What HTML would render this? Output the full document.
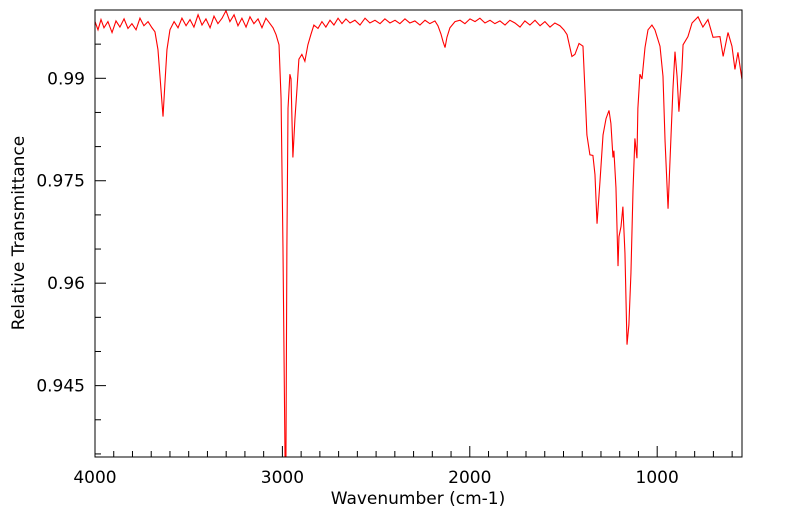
<!DOCTYPE html>
<html><head><meta charset="utf-8"><style>
html,body{margin:0;padding:0;background:#fff;}
svg{display:block;font-family:"DejaVu Sans","Liberation Sans",sans-serif;}
</style></head><body>
<svg id="chart" width="799" height="516">
<rect x="0" y="0" width="799" height="516" fill="#fff"/>
<g id="ticks"></g>
<g id="labels"></g>
<path id="series" fill="none" stroke="#ff0000" stroke-width="1.1"/>
<rect x="95" y="10" width="647" height="447" fill="none" stroke="#000" stroke-width="1"/>
<text x="418" y="504" font-size="17" text-anchor="middle">Wavenumber (cm-1)</text>
<text transform="translate(24,233) rotate(-90)" font-size="17" text-anchor="middle">Relative Transmittance</text>
</svg>
<script>
const wavenumbers = [4000,3984,3968,3952,3931,3909,3888,3867,3845,3824,3803,3781,3760,3739,3717,3696,3680,3664,3648,3637,3627,3616,3600,3578,3557,3536,3514,3493,3472,3450,3429,3408,3386,3365,3344,3322,3301,3280,3258,3237,3216,3194,3173,3152,3130,3109,3088,3066,3050,3034,3018,3007,2997,2986,2981,2976,2970,2960,2954,2949,2944,2933,2922,2912,2896,2880,2864,2848,2832,2810,2789,2768,2746,2725,2703,2682,2661,2639,2613,2586,2559,2533,2506,2479,2453,2426,2399,2373,2346,2320,2293,2266,2239,2213,2186,2170,2154,2143,2132,2122,2106,2079,2052,2026,1999,1972,1946,1919,1892,1866,1839,1812,1786,1759,1732,1706,1679,1652,1625,1599,1572,1546,1519,1498,1481,1455,1439,1417,1396,1385,1375,1359,1343,1332,1321,1305,1289,1273,1257,1247,1236,1231,1220,1209,1204,1193,1183,1172,1161,1151,1140,1129,1119,1108,1103,1092,1081,1065,1049,1028,1012,985,969,958,942,926,916,905,894,884,868,862,836,814,782,756,729,702,665,648,622,601,585,569,548];
const transmittance = [0.9983,0.9971,0.9986,0.9974,0.9983,0.9967,0.9984,0.9975,0.9987,0.9973,0.9980,0.9971,0.9988,0.9977,0.9983,0.9974,0.9968,0.9942,0.9884,0.9844,0.9892,0.9942,0.9971,0.9983,0.9974,0.9988,0.9977,0.9986,0.9975,0.9993,0.9978,0.9987,0.9974,0.9991,0.9980,0.9988,0.9999,0.9983,0.9993,0.9977,0.9988,0.9975,0.9990,0.9980,0.9987,0.9974,0.9988,0.9980,0.9974,0.9964,0.9949,0.9870,0.9654,0.9300,0.9300,0.9654,0.9856,0.9906,0.9899,0.9841,0.9784,0.9841,0.9885,0.9928,0.9935,0.9925,0.9949,0.9964,0.9978,0.9973,0.9983,0.9975,0.9985,0.9978,0.9988,0.9980,0.9987,0.9981,0.9985,0.9978,0.9988,0.9981,0.9985,0.9980,0.9987,0.9981,0.9985,0.9980,0.9987,0.9981,0.9984,0.9978,0.9985,0.9980,0.9984,0.9977,0.9965,0.9954,0.9945,0.9960,0.9974,0.9983,0.9985,0.9980,0.9987,0.9983,0.9988,0.9981,0.9985,0.9980,0.9984,0.9978,0.9985,0.9981,0.9975,0.9984,0.9978,0.9985,0.9977,0.9983,0.9975,0.9981,0.9977,0.9971,0.9964,0.9932,0.9935,0.9951,0.9947,0.9880,0.9817,0.9788,0.9787,0.9759,0.9687,0.9750,0.9817,0.9841,0.9853,0.9834,0.9784,0.9794,0.9740,0.9625,0.9668,0.9683,0.9712,0.9644,0.9510,0.9539,0.9615,0.9736,0.9812,0.9783,0.9856,0.9906,0.9899,0.9945,0.9971,0.9978,0.9971,0.9947,0.9903,0.9808,0.9709,0.9817,0.9884,0.9939,0.9903,0.9851,0.9913,0.9949,0.9961,0.9981,0.9990,0.9975,0.9986,0.9960,0.9961,0.9932,0.9967,0.9947,0.9913,0.9938,0.9899];
const xTickLabels = [4000,3000,2000,1000];
const yTickLabels = ["0.99","0.975","0.96","0.945"];
const yTickValues = [0.99,0.975,0.96,0.945];

const X0=95,X1=742,Y0=10,Y1=457;
const WN_MAX=4000,WN_MIN=547.4,T_MAX=1.0,T_MIN=0.93455;
function xs(w){return X0+(WN_MAX-w)/(WN_MAX-WN_MIN)*(X1-X0);}
function ys(t){return Y1-(t-T_MIN)/(T_MAX-T_MIN)*(Y1-Y0);}
const NS="http://www.w3.org/2000/svg";
const tg=document.getElementById('ticks'), lg=document.getElementById('labels');
function line(x1,y1,x2,y2,name){const l=document.createElementNS(NS,'line');
l.setAttribute('x1',x1);l.setAttribute('y1',y1);l.setAttribute('x2',x2);l.setAttribute('y2',y2);
l.setAttribute('stroke','#000');l.setAttribute('stroke-width','1');


tg.appendChild(l);}
for(let w=4000;w>=WN_MIN;w-=100){const x=xs(w);const major=w%1000===0;line(x,Y1,x,Y1-(major?11:6),major?'x-major-tick':'x-minor-tick');}
for(let t=0.995;t>T_MIN;t-=0.005){const y=ys(t);const major=Math.abs(((0.99-t)/0.015)-Math.round((0.99-t)/0.015))<1e-6;line(X0,y,X0+(major?11:6),y,major?'y-major-tick':'y-minor-tick');}
xTickLabels.forEach(v=>{const t=document.createElementNS(NS,'text');
t.setAttribute('x',xs(v));t.setAttribute('y',Y1+26);t.setAttribute('font-size','17');t.setAttribute('text-anchor','middle');
t.textContent=v;


lg.appendChild(t);});
yTickValues.forEach((v,i)=>{const t=document.createElementNS(NS,'text');
t.setAttribute('x',X0-10);t.setAttribute('y',ys(v)+6);t.setAttribute('font-size','17');t.setAttribute('text-anchor','end');
t.textContent=yTickLabels[i];


lg.appendChild(t);});
let d='';
wavenumbers.forEach((w,i)=>{const y=Math.min(Math.max(ys(transmittance[i]),Y0),Y1);d+=(i?'L':'M')+xs(w).toFixed(2)+','+y.toFixed(2);});
document.getElementById('series').setAttribute('d',d);
</script>
</body></html>
